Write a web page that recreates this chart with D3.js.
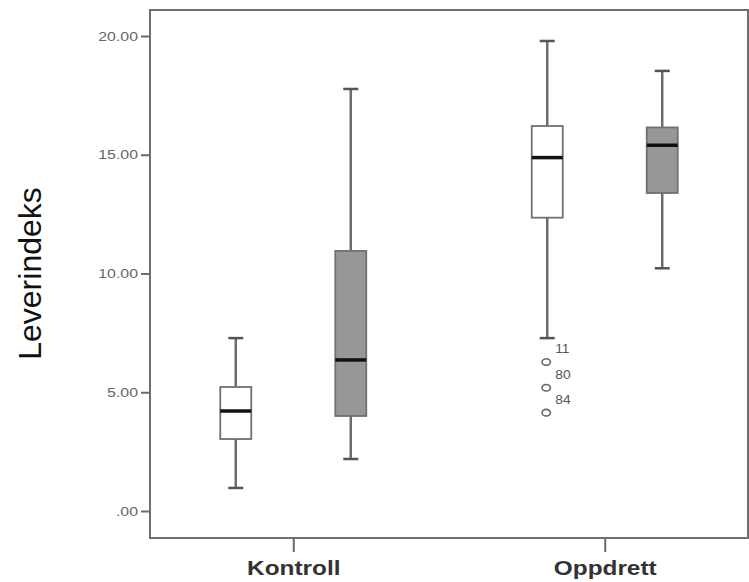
<!DOCTYPE html>
<html>
<head>
<meta charset="utf-8">
<script src="https://cdn.jsdelivr.net/npm/d3@7"></script>
<style>
  html, body { margin: 0; padding: 0; background: #ffffff; }
  svg { display: block; }
</style>
</head>
<body>
<svg id="chart" width="749" height="582"></svg>
<script>
// ---------- data ----------
const groups = ["Kontroll", "Oppdrett"];
const seriesNames = ["Serie 1", "Serie 2"];
const boxGroup   = ["Kontroll", "Kontroll", "Oppdrett", "Oppdrett"];
const boxSeries  = ["Serie 1", "Serie 2", "Serie 1", "Serie 2"];
const whiskerLow = [0.97, 2.19, 7.28, 10.22];
const q1Values   = [3.03, 4.00, 12.35, 13.39];
const medians    = [4.21, 6.36, 14.88, 15.40];
const q3Values   = [5.22, 10.95, 16.21, 16.15];
const whiskerHigh= [7.28, 17.77, 19.79, 18.53];
const outlierValues = [6.27, 5.19, 4.14];
const outlierLabels = ["11", "80", "84"];
const outlierGroup  = ["Oppdrett", "Oppdrett", "Oppdrett"];
const outlierSeries = ["Serie 1", "Serie 1", "Serie 1"];
const yTickValues = [0, 5, 10, 15, 20];
const yTickLabels = [".00", "5.00", "10.00", "15.00", "20.00"];
const yTitle = "Leverindeks";

// ---------- layout ----------
const frame = { left: 150, right: 748, top: 10, bottom: 538 };
const svg = d3.select("#chart");

const y = d3.scaleLinear().domain([0, 20]).range([511, 36]);
const x = d3.scalePoint().domain(groups).range([frame.left, frame.right]).padding(0.46);
const xs = d3.scalePoint().domain(seriesNames).range([-57.5, 57.5]);
const boxW = 31, capW = 15;
const fills = { "Serie 1": "#ffffff", "Serie 2": "#979797" };

// frame
svg.append("rect")
  .attr("x", frame.left).attr("y", frame.top)
  .attr("width", frame.right - frame.left).attr("height", frame.bottom - frame.top)
  .attr("fill", "none").attr("stroke", "#6f6f6f").attr("stroke-width", 2);

// y axis
const yAxis = d3.axisLeft(y).tickValues(yTickValues)
  .tickFormat((d, i) => yTickLabels[i]).tickSize(9).tickPadding(3);
const gy = svg.append("g").attr("transform", `translate(${frame.left},0)`).call(yAxis);
gy.select(".domain").remove();
gy.selectAll(".tick line").attr("stroke", "#6a6a6a").attr("stroke-width", 2);
gy.selectAll(".tick text")
  .attr("fill", "#666").style("font-family", "Liberation Sans, Arial, sans-serif")
  .style("font-size", "13px")
  .attr("transform", "scale(1.22,1)")
  .attr("x", -12 / 1.22);

// x axis
const xAxis = d3.axisBottom(x).tickSize(14).tickPadding(8);
const gx = svg.append("g").attr("transform", `translate(0,${frame.bottom})`).call(xAxis);
gx.select(".domain").remove();
gx.selectAll(".tick line").attr("stroke", "#6a6a6a").attr("stroke-width", 2);
gx.selectAll(".tick text")
  .attr("fill", "#333").style("font-family", "Liberation Sans, Arial, sans-serif")
  .style("font-size", "21px").style("font-weight", "bold")
  .attr("transform", "scale(1.16,1)");

// y title
svg.append("text")
  .attr("transform", `translate(41,${(y(0) + y(20)) / 2}) rotate(-90)`)
  .attr("text-anchor", "middle")
  .style("font-family", "Liberation Sans, Arial, sans-serif")
  .style("font-size", "32px").attr("fill", "#111")
  .text(yTitle);

// boxes
const boxes = boxGroup.map((g, i) => ({
  cx: x(g) + xs(boxSeries[i]), s: boxSeries[i],
  lo: whiskerLow[i], q1: q1Values[i], med: medians[i], q3: q3Values[i], hi: whiskerHigh[i]
}));
const bg = svg.append("g").selectAll("g").data(boxes).join("g");
const wColor = "#6b6b6b";
bg.append("line").attr("x1", d => d.cx).attr("x2", d => d.cx)
  .attr("y1", d => y(d.hi)).attr("y2", d => y(d.q3)).attr("stroke", wColor).attr("stroke-width", 2.5);
bg.append("line").attr("x1", d => d.cx).attr("x2", d => d.cx)
  .attr("y1", d => y(d.q1)).attr("y2", d => y(d.lo)).attr("stroke", wColor).attr("stroke-width", 2.5);
bg.append("line").attr("x1", d => d.cx - capW / 2).attr("x2", d => d.cx + capW / 2)
  .attr("y1", d => y(d.hi)).attr("y2", d => y(d.hi)).attr("stroke", "#555").attr("stroke-width", 2.5);
bg.append("line").attr("x1", d => d.cx - capW / 2).attr("x2", d => d.cx + capW / 2)
  .attr("y1", d => y(d.lo)).attr("y2", d => y(d.lo)).attr("stroke", "#555").attr("stroke-width", 2.5);
bg.append("rect").attr("x", d => d.cx - boxW / 2).attr("width", boxW)
  .attr("y", d => y(d.q3)).attr("height", d => y(d.q1) - y(d.q3))
  .attr("fill", d => fills[d.s]).attr("stroke", "#707070").attr("stroke-width", 1.8);
bg.append("line").attr("x1", d => d.cx - boxW / 2).attr("x2", d => d.cx + boxW / 2)
  .attr("y1", d => y(d.med)).attr("y2", d => y(d.med)).attr("stroke", "#111").attr("stroke-width", 3.5);

// outliers
const outs = outlierValues.map((v, i) => ({
  cx: x(outlierGroup[i]) + xs(outlierSeries[i]), v, label: outlierLabels[i]
}));
const og = svg.append("g").selectAll("g").data(outs).join("g");
og.append("ellipse").attr("cx", d => d.cx - 1).attr("cy", d => y(d.v))
  .attr("rx", 4.2).attr("ry", 3.3)
  .attr("fill", "#fff").attr("stroke", "#666").attr("stroke-width", 1.6);
og.append("text").attr("x", d => d.cx + 8).attr("y", d => y(d.v) - 9)
  .style("font-family", "Liberation Sans, Arial, sans-serif").style("font-size", "12px")
  .attr("transform", d => `translate(${-(d.cx + 8) * 0.15},0) scale(1.15,1)`)
  .attr("fill", "#555").text(d => d.label);
</script>
</body>
</html>
